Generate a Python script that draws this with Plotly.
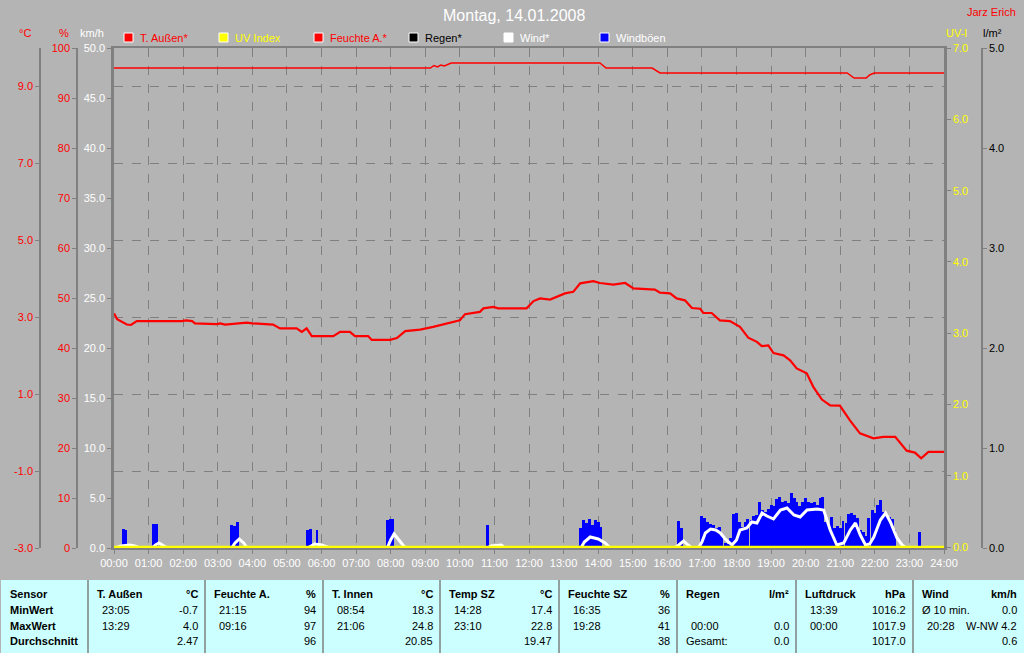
import plotly.graph_objects as go

# ---------------- data ----------------
hour_ticks = [0, 1, 2, 3, 4, 5, 6, 7, 8, 9, 10, 11, 12, 13, 14, 15, 16, 17, 18, 19, 20, 21, 22, 23, 24]
hour_labels = ["00:00", "01:00", "02:00", "03:00", "04:00", "05:00", "06:00", "07:00", "08:00",
               "09:00", "10:00", "11:00", "12:00", "13:00", "14:00", "15:00", "16:00", "17:00",
               "18:00", "19:00", "20:00", "21:00", "22:00", "23:00", "24:00"]

# outside temperature (°C)
temp_t = [0.00, 0.09, 0.37, 0.49, 0.66, 1.96, 2.08, 2.26, 2.34, 2.97, 3.07, 3.21, 3.84, 4.00, 4.60,
          4.80, 5.28, 5.43, 5.57, 5.72, 6.34, 6.54, 6.82, 6.97, 7.35, 7.45, 7.98, 8.18, 8.42, 8.85,
          9.23, 9.62, 10.00, 10.15, 10.58, 10.68, 10.97, 11.11, 11.93, 12.13, 12.32, 12.61, 13.04,
          13.28, 13.48, 13.86, 14.05, 14.44, 14.78, 15.02, 15.64, 15.79, 16.08, 16.27, 16.51, 16.71,
          16.95, 17.04, 17.28, 17.52, 17.81, 18.10, 18.34, 18.59, 18.73, 18.92, 19.07, 19.36, 19.55,
          19.74, 20.03, 20.22, 20.47, 20.71, 20.99, 21.28, 21.57, 21.96, 22.25, 22.59, 22.73, 22.92,
          23.16, 23.34, 23.55, 24.00]
temp_c = [3.10, 2.95, 2.81, 2.80, 2.90, 2.90, 2.92, 2.90, 2.84, 2.82, 2.84, 2.81, 2.86, 2.84, 2.81,
          2.71, 2.71, 2.62, 2.71, 2.51, 2.51, 2.62, 2.62, 2.51, 2.51, 2.41, 2.41, 2.46, 2.64, 2.68,
          2.75, 2.84, 2.92, 3.08, 3.14, 3.23, 3.27, 3.23, 3.23, 3.42, 3.49, 3.46, 3.62,
          3.66, 3.88, 3.94, 3.89, 3.85, 3.89, 3.75, 3.72, 3.64, 3.62, 3.49, 3.44, 3.24,
          3.22, 3.11, 3.11, 2.92, 2.90, 2.75, 2.47, 2.36, 2.25, 2.27, 2.07, 2.01, 1.88,
          1.67, 1.54, 1.19, 0.86, 0.71, 0.70, 0.32, -0.02, -0.15, -0.11, -0.11, -0.26, -0.47,
          -0.52, -0.67, -0.50, -0.50]

# outside humidity (%)
hum_t = [0.0, 9.15, 9.25, 9.35, 9.45, 9.55, 9.75, 14.05, 14.23, 15.56, 15.79, 21.2, 21.4, 21.75,
         21.85, 21.98, 24.0]
hum_pct = [96, 96, 96.5, 96.2, 96.6, 96.4, 97, 97, 96, 96, 95, 95, 94, 94, 94.6, 95, 95]

# wind (km/h)
wind_t = [0.0, 0.1, 0.2, 0.45, 0.6, 0.75, 1.1, 1.2, 1.3, 1.45, 1.55, 3.4, 3.5, 3.62, 3.75, 3.85,
          5.6, 5.7, 5.8, 6.0, 6.25, 7.9, 8.0, 8.1, 8.25, 8.4, 8.5, 10.8, 10.9, 11.2, 11.3, 13.5,
          13.6, 13.77, 14.0, 14.2, 14.35, 16.2, 16.33, 16.47, 16.6, 16.71, 16.9, 17.0, 17.1, 17.25,
          17.4, 17.53, 17.7, 17.87, 18.0, 18.1, 18.3, 18.44, 18.59, 18.74, 18.88, 19.07, 19.27,
          19.46, 19.66, 19.84, 20.04, 20.33, 20.52, 20.71, 20.9, 21.1, 21.29, 21.44, 21.58, 21.73,
          21.85, 21.97, 22.16, 22.31, 22.45, 22.64, 22.79, 22.9, 24.0]
wind_kmh = [0.0, 0.1, 0.2, 0.3, 0.2, 0.0, 0.0, 0.3, 0.5, 0.2, 0.0, 0.0, 0.5, 0.9, 0.5, 0.0,
            0.0, 0.2, 0.4, 0.3, 0.0, 0.0, 0.8, 1.4, 0.8, 0.1, 0.0, 0.0, 0.2, 0.3, 0.0, 0.0,
            0.6, 1.1, 0.9, 0.5, 0.0, 0.0, 0.3, 0.7, 0.3, 0.0, 0.0, 0.6, 1.5, 1.9,
            1.8, 1.5, 0.8, 0.3, 0.8, 1.8, 2.0, 2.6, 2.5, 3.5, 3.2, 2.9, 3.8,
            4.0, 3.3, 3.1, 3.8, 3.9, 3.8, 1.8, 0.3, 0.5, 1.8, 2.5, 1.3, 0.3,
            0.4, 1.1, 2.8, 3.5, 2.6, 1.0, 0.3, 0.0, 0.0]

# wind gusts (km/h)
gust_t = [0.27, 0.33, 1.15, 1.23, 3.40, 3.48, 3.56, 5.60, 5.68, 5.87, 7.92, 8.00, 8.06, 10.80,
          13.50, 13.58, 13.67, 13.75, 13.83, 13.92, 14.00, 14.08, 16.33, 16.42,
          17.00, 17.08, 17.17, 17.25, 17.33, 17.42, 17.50, 17.58, 17.67, 17.75,
          17.83, 17.92, 18.00, 18.08, 18.17, 18.25, 18.33, 18.42, 18.50, 18.58,
          18.67, 18.75, 18.83, 18.92, 19.00, 19.08, 19.17, 19.25, 19.33, 19.42,
          19.50, 19.58, 19.67, 19.75, 19.83, 19.92, 20.00, 20.08, 20.17, 20.25,
          20.33, 20.42, 20.50, 20.58, 20.67, 20.75, 20.83, 20.92, 21.00, 21.08,
          21.17, 21.25, 21.33, 21.42, 21.50, 21.58, 21.67, 21.75, 21.83, 21.92,
          22.00, 22.08, 22.17, 22.25, 22.33, 22.42, 22.50, 22.58, 23.28]
gust_kmh = [1.9, 1.8, 2.4, 2.4, 2.3, 2.2, 2.6, 1.8, 1.9, 1.8, 2.8, 2.9, 2.9, 2.3,
            2.0, 2.8, 2.5, 2.9, 2.3, 2.8, 2.6, 2.1, 2.7, 2.0,
            3.2, 3.0, 2.6, 2.4, 2.3, 2.0, 2.1, 1.2, 0.5, 0.4,
            1.0, 3.4, 3.5, 2.6, 2.1, 2.6, 2.9, 2.8, 3.2, 3.3,
            4.6, 3.8, 3.6, 3.9, 4.3, 4.2, 4.9, 5.1, 4.6, 4.7,
            4.5, 5.5, 5.0, 4.6, 4.2, 4.6, 5.0, 4.6, 4.5, 4.6,
            4.3, 5.0, 5.1, 2.6, 2.4, 3.1, 2.0, 2.2, 2.0, 2.7,
            2.5, 3.4, 3.5, 3.3, 3.0, 1.8, 1.6, 1.2, 3.0, 3.8,
            3.5, 4.3, 4.8, 3.6, 3.3, 3.1, 2.9, 1.8, 1.6]

uv_t = [0, 24]
uv_idx = [0.0, 0.0]
rain_t = [0, 24]
rain_mm = [0.0, 0.0]

kmh_ticks = [0, 5, 10, 15, 20, 25, 30, 35, 40, 45, 50]
kmh_labels = ["0.0", "5.0", "10.0", "15.0", "20.0", "25.0", "30.0", "35.0", "40.0", "45.0", "50.0"]
c_ticks = [-3, -1, 1, 3, 5, 7, 9]
c_labels = ["-3.0", "-1.0", "1.0", "3.0", "5.0", "7.0", "9.0"]
pct_ticks = [0, 10, 20, 30, 40, 50, 60, 70, 80, 90, 100]
pct_labels = ["0", "10", "20", "30", "40", "50", "60", "70", "80", "90", "100"]
uv_ticks = [0, 1, 2, 3, 4, 5, 6, 7]
uv_labels = ["0.0", "1.0", "2.0", "3.0", "4.0", "5.0", "6.0", "7.0"]
rain_ticks = [0, 1, 2, 3, 4, 5]
rain_labels = ["0.0", "1.0", "2.0", "3.0", "4.0", "5.0"]

legend_names = ["T. Außen*", "UV Index", "Feuchte A.*", "Regen*", "Wind*", "Windböen"]
legend_colors = ["#FF0000", "#FFFF00", "#FF0000", "#000000", "#FFFFFF", "#0000FF"]
legend_text_colors = ["#FF0000", "#FFFF00", "#FF0000", "#000000", "#FFFFFF", "#FFFFFF"]

table_row_labels = ["Sensor", "MinWert", "MaxWert", "Durchschnitt"]
table_headers = ["T. Außen", "Feuchte A.", "T. Innen", "Temp SZ", "Feuchte SZ", "Regen", "Luftdruck", "Wind"]
table_units = ["°C", "%", "°C", "°C", "%", "l/m²", "hPa", "km/h"]
min_label = ["23:05", "21:15", "08:54", "14:28", "16:35", "", "13:39", "Ø 10 min."]
min_value = ["-0.7", "94", "18.3", "17.4", "36", "", "1016.2", "0.0"]
max_label = ["13:29", "09:16", "21:06", "23:10", "19:28", "00:00", "00:00", "20:28"]
max_value = ["4.0", "97", "24.8", "22.8", "41", "0.0", "1017.9", "W-NW 4.2"]
avg_label = ["", "", "", "", "", "Gesamt:", "", ""]
avg_value = ["2.47", "96", "20.85", "19.47", "38", "0.0", "1017.0", "0.6"]

# ---------------- layout helpers ----------------
W, H = 1024, 653
def px(x):
    return x / W
def py(y):
    return 1 - y / H

X0, X1 = 114, 944
Y0, Y1 = 48, 548
FONT = "Liberation Sans, Arial, sans-serif"
BG = "#B4B4B4"
GRID = "#808080"

fig = go.Figure()
fig.add_trace(go.Bar(x=gust_t, y=gust_kmh, width=0.085, yaxis="y",
                     marker=dict(color="#0000FF", line_width=0), showlegend=False))
fig.add_trace(go.Scatter(x=wind_t, y=wind_kmh, mode="lines", yaxis="y",
                         line=dict(color="#FFFFFF", width=3), showlegend=False))
fig.add_trace(go.Scatter(x=temp_t, y=temp_c, mode="lines", yaxis="y2",
                         line=dict(color="#FF0000", width=2.2), showlegend=False))
fig.add_trace(go.Scatter(x=hum_t, y=hum_pct, mode="lines", yaxis="y3",
                         line=dict(color="#FF0000", width=1.5), showlegend=False))
fig.add_trace(go.Scatter(x=rain_t, y=rain_mm, mode="lines", yaxis="y4",
                         line=dict(color="#000000", width=2), showlegend=False))
fig.add_trace(go.Scatter(x=uv_t, y=uv_idx, mode="lines", yaxis="y5",
                         line=dict(color="#FFFF00", width=3), showlegend=False))

ydom = [py(Y1), py(Y0)]
common_y = dict(domain=ydom, zeroline=False, showline=True, linecolor=GRID, linewidth=1.5,
                ticks="outside", ticklen=4, tickcolor=GRID, fixedrange=True, tickmode="array",
                automargin=False)

fig.update_layout(
    template="none",
    width=W, height=H, autosize=False,
    margin=dict(l=0, r=0, t=0, b=0, pad=0),
    paper_bgcolor=BG, plot_bgcolor=BG,
    font=dict(family=FONT, size=11, color="#FFFFFF"),
    showlegend=False, bargap=0,
    xaxis=dict(domain=[px(X0), px(X1)], range=[0, 24], tickmode="array",
               tickvals=hour_ticks, ticktext=hour_labels, showgrid=True, gridcolor=GRID,
               griddash="dash", gridwidth=1, showline=True, linecolor=GRID, linewidth=2,
               mirror=True, ticks="outside", ticklen=4, tickcolor=GRID, zeroline=False,
               layer="below traces",
               tickfont=dict(color="#FFFFFF", size=11), fixedrange=True, automargin=False),
    yaxis=dict(common_y, range=[0, 50], tickvals=kmh_ticks, ticktext=kmh_labels,
               showgrid=False, linewidth=2.5, mirror=True,
               tickfont=dict(color="#FFFFFF", size=11)),
    yaxis2=dict(common_y, overlaying="y", anchor="free", position=px(40), side="left",
                range=[-3, 10], tickvals=c_ticks, ticktext=c_labels, showgrid=True,
                gridcolor=GRID, griddash="dash", gridwidth=1,
                tickfont=dict(color="#FF0000", size=11)),
    yaxis3=dict(common_y, overlaying="y", anchor="free", position=px(77), side="left",
                range=[0, 100], tickvals=pct_ticks, ticktext=pct_labels, showgrid=False,
                tickfont=dict(color="#FF0000", size=11)),
    yaxis4=dict(common_y, overlaying="y", anchor="free", position=px(982), side="right",
                range=[0, 5], tickvals=rain_ticks, ticktext=rain_labels, showgrid=False,
                tickfont=dict(color="#000000", size=11)),
    yaxis5=dict(common_y, overlaying="y", anchor="x", side="right",
                range=[-0.01, 7], tickvals=uv_ticks, ticktext=uv_labels, showgrid=False,
                linewidth=2.5, tickfont=dict(color="#FFFF00", size=11)),
)

ann = []
shapes = []

def text(x, y, s, color, size=11, xanchor="left", bold=False):
    ann.append(dict(x=px(x), y=py(y), xref="paper", yref="paper", text=("<b>%s</b>" % s) if bold else s,
                    showarrow=False, xanchor=xanchor, yanchor="middle",
                    font=dict(family=FONT, size=size, color=color)))

# title and author
text(514, 15, "Montag, 14.01.2008", "#FFFFFF", size=16, xanchor="center")
text(1018, 12, "Jarz Erich", "#FF0000", size=11, xanchor="right")

# axis unit labels
text(25, 33, "°C", "#FF0000", xanchor="center")
text(64, 33, "%", "#FF0000", xanchor="center")
text(92, 33, "km/h", "#FFFFFF", xanchor="center")
text(956, 33, "UV-I", "#FFFF00", xanchor="center")
text(992, 33, "l/m²", "#000000", xanchor="center")

# legend
legend_x = [124, 219, 314, 409, 504, 600]
for lx, name, col, tcol in zip(legend_x, legend_names, legend_colors, legend_text_colors):
    shapes.append(dict(type="rect", xref="paper", yref="paper", x0=px(lx), x1=px(lx + 9),
                       y0=py(42), y1=py(33), fillcolor=col, line=dict(color="#FFFFFF", width=1)))
    text(lx + 14, 38, name, tcol)

# bottom table
shapes.append(dict(type="rect", xref="paper", yref="paper", x0=px(1), x1=px(1024),
                   y0=py(653), y1=py(580), fillcolor="#CCFFFF", line=dict(width=0), layer="below"))
seps = [88, 205, 323, 440, 559, 677, 796, 913, 1024]
for sx in seps[:-1]:
    shapes.append(dict(type="line", xref="paper", yref="paper", x0=px(sx), x1=px(sx),
                       y0=py(653), y1=py(580), line=dict(color=GRID, width=1.5)))
row_y = [594, 610, 626, 641]
for ry, lab in zip(row_y, table_row_labels):
    text(8, ry, lab, "#000000", bold=True)

def left_off(s):
    return 12 if (len(s) > 2 and s[0].isdigit() and ":" in s) else 7

for i in range(8):
    left = seps[i]
    right = seps[i + 1]
    text(left + 7, row_y[0], table_headers[i], "#000000", bold=True)
    text(right - 5, row_y[0], table_units[i], "#000000", xanchor="right", bold=True)
    for ry, labs, vals in ((row_y[1], min_label, min_value), (row_y[2], max_label, max_value),
                           (row_y[3], avg_label, avg_value)):
        if labs[i]:
            text(left + left_off(labs[i]), ry, labs[i], "#000000")
        if vals[i]:
            text(right - 5, ry, vals[i], "#000000", xanchor="right")

fig.update_layout(annotations=ann, shapes=shapes)

fig.write_html("out.html", config={"displayModeBar": False},
               post_script="document.body.style.margin='0';document.body.style.overflow='hidden';")
